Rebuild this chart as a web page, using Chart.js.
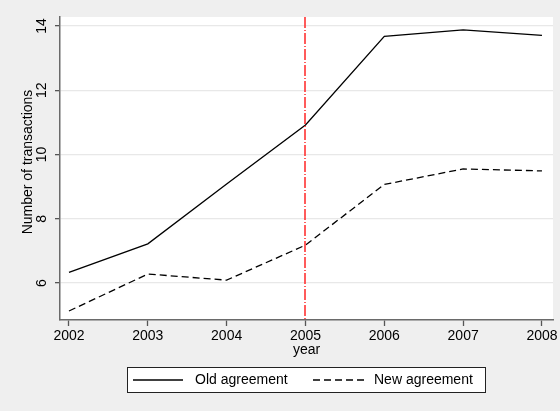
<!DOCTYPE html>
<html>
<head>
<meta charset="utf-8">
<script src="https://cdn.jsdelivr.net/npm/chart.js@4"></script>
<style>
  html, body { margin: 0; padding: 0; background: #efefef; }
  #wrap { width: 560px; height: 411px; }
</style>
</head>
<body>
<div id="wrap"><canvas id="c" width="560" height="411"></canvas></div>
<script>
// Annual averages, 2002-2008
const years = [2002, 2003, 2004, 2005, 2006, 2007, 2008];
const oldAgreement = [6.33, 7.22, 9.08, 10.92, 13.68, 13.88, 13.71];
const newAgreement = [5.13, 6.28, 6.09, 7.18, 9.07, 9.55, 9.49];
const yTicks = [6, 8, 10, 12, 14];
const policyYear = 2005;
const seriesNames = ['Old agreement', 'New agreement'];
const xTitle = 'year';
const yTitle = 'Number of transactions';

const FONT = '"Liberation Sans", Arial, sans-serif';

// white plot region, red reference line, rotated y labels and framed legend
const decorations = {
  id: 'decorations',
  beforeDraw(chart) {
    const { ctx, chartArea: a } = chart;
    ctx.save();
    ctx.fillStyle = '#ffffff';
    ctx.fillRect(a.left, a.top, a.right - a.left, a.bottom - a.top);
    ctx.restore();
  },
  afterDatasetsDraw(chart) {
    const { ctx, chartArea: a, scales } = chart;
    const x = Math.round(scales.x.getPixelForValue(policyYear));
    ctx.save();
    ctx.strokeStyle = '#ff3333';
    ctx.lineWidth = 1.6;
    ctx.setLineDash([11, 2, 1, 2]);
    ctx.beginPath();
    ctx.moveTo(x, a.top);
    ctx.lineTo(x, a.bottom);
    ctx.stroke();
    ctx.restore();
  },
  afterDraw(chart) {
    const { ctx, scales } = chart;
    ctx.save();
    ctx.fillStyle = '#000000';
    ctx.font = '14px ' + FONT;
    ctx.textAlign = 'center';
    ctx.textBaseline = 'middle';
    // y tick labels, reading upward
    yTicks.forEach(v => {
      const y = scales.y.getPixelForValue(v);
      ctx.save();
      ctx.translate(42, y);
      ctx.rotate(-Math.PI / 2);
      ctx.fillText(String(v), 0, 0);
      ctx.restore();
    });
    // y axis title
    ctx.save();
    ctx.translate(28, 162);
    ctx.rotate(-Math.PI / 2);
    ctx.fillText(yTitle, 0, 0);
    ctx.restore();

    // legend box
    const bx = 127.5, by = 367.5, bw = 358, bh = 25;
    ctx.fillStyle = '#ffffff';
    ctx.fillRect(bx, by, bw, bh);
    ctx.strokeStyle = '#222222';
    ctx.lineWidth = 1;
    ctx.strokeRect(bx, by, bw, bh);
    const ly = 380;
    ctx.strokeStyle = '#000000';
    ctx.lineWidth = 1.3;
    ctx.beginPath();
    ctx.moveTo(133, ly); ctx.lineTo(183, ly);
    ctx.stroke();
    ctx.setLineDash([7, 4]);
    ctx.beginPath();
    ctx.moveTo(313, ly); ctx.lineTo(366, ly);
    ctx.stroke();
    ctx.setLineDash([]);
    ctx.fillStyle = '#000000';
    ctx.textAlign = 'left';
    ctx.fillText(seriesNames[0], 195, ly);
    ctx.fillText(seriesNames[1], 374, ly);
    ctx.restore();
  }
};

new Chart(document.getElementById('c'), {
  type: 'line',
  data: {
    datasets: [
      {
        label: seriesNames[0],
        data: years.map((yr, i) => ({ x: yr, y: oldAgreement[i] })),
        borderColor: '#000000',
        borderWidth: 1.3,
        pointRadius: 0,
        tension: 0,
        fill: false
      },
      {
        label: seriesNames[1],
        data: years.map((yr, i) => ({ x: yr, y: newAgreement[i] })),
        borderColor: '#000000',
        borderWidth: 1.3,
        borderDash: [7, 4],
        pointRadius: 0,
        tension: 0,
        fill: false
      }
    ]
  },
  options: {
    responsive: false,
    animation: false,
    events: [],
    layout: { padding: { top: 17, right: 7, left: 0, bottom: 0 } },
    plugins: { legend: { display: false }, tooltip: { enabled: false } },
    scales: {
      x: {
        type: 'linear',
        min: 2001.886,
        max: 2008.14,
        afterBuildTicks: s => { s.ticks = years.map(v => ({ value: v })); },
        afterFit: s => { s.height = 91; },
        grid: {
          drawOnChartArea: false,
          drawTicks: true,
          tickLength: 6,
          tickColor: '#555555',
          tickWidth: 1.3
        },
        border: { display: true, color: '#6a6a6a', width: 1.5 },
        ticks: {
          color: '#000000',
          font: { family: FONT, size: 14 },
          padding: 2,
          maxRotation: 0,
          minRotation: 0,
          autoSkip: false,
          callback: v => String(v)
        },
        title: {
          display: true,
          text: xTitle,
          color: '#000000',
          font: { family: FONT, size: 14 },
          padding: { top: 0, bottom: 52 }
        }
      },
      y: {
        type: 'linear',
        min: 4.85,
        max: 14.28,
        afterBuildTicks: s => { s.ticks = yTicks.map(v => ({ value: v })); },
        afterFit: s => { s.width = 60; },
        grid: {
          drawOnChartArea: true,
          color: '#e8e8e8',
          lineWidth: 1.3,
          drawTicks: true,
          tickLength: 5,
          tickColor: '#555555',
          tickWidth: 1.3
        },
        border: { display: true, color: '#6a6a6a', width: 1.5 },
        ticks: { display: false }
      }
    }
  },
  plugins: [decorations]
});
</script>
</body>
</html>
